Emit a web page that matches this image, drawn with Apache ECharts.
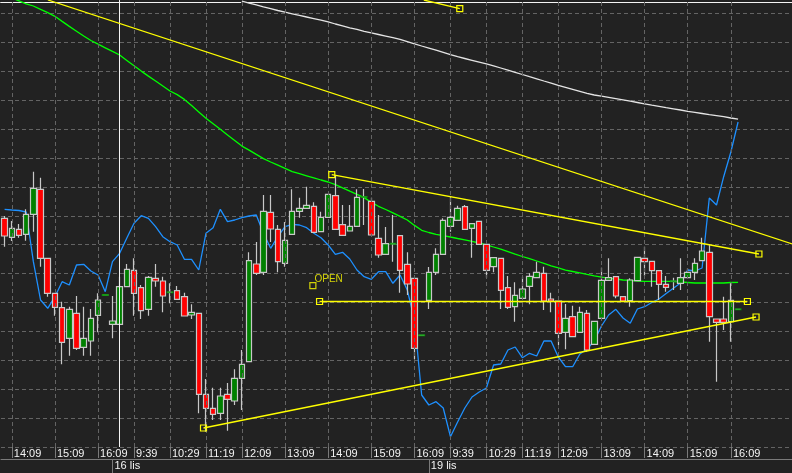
<!DOCTYPE html>
<html><head><meta charset="utf-8">
<script src="https://cdn.jsdelivr.net/npm/echarts@6/dist/echarts.min.js"></script>
<style>html,body{margin:0;padding:0;background:#222222;}#c{width:792px;height:473px;}</style>
</head><body><div id="c"></div>
<script>
// ---- time axis (10-minute bars, three sessions) ----
const sessionStarts = ['13:59', '9:09', '9:09'];
const sessionBars = [15, 44, 51];
const tickIndex = [1, 7, 13, 18, 23, 28, 33, 39, 45, 51, 57, 62, 67, 72, 77, 83, 89, 95, 101];
const timeTicks = ['14:09','15:09','16:09','9:39','10:29','11:19','12:09','13:09','14:09','15:09','16:09','9:39','10:29','11:19','12:09','13:09','14:09','15:09','16:09'];
const dateIndex = [15, 59];
const dateLabels = ['16 lis', '19 lis'];

// ---- candles: [open, close, low, high] ----
const candles = [
[228.7,211,200.3,231],[209.7,218.7,206,226],[217.7,211.7,209.3,223],[212.7,232.7,206.3,237.7],[232.7,258.7,215.3,275.3],
[257.7,188.7,180.3,269.3],[188.7,153.7,150.3,189],[153.7,139.7,131.3,154],[139.3,104.7,82.7,145.3],[108.7,137.7,91.3,140.3],
[133.7,98.7,97,151],[99.7,108.7,91.3,140.3],[106,128.7,91.3,138],[131.7,147,114.7,153.7],[152,152,152,152],
[122.7,126,108.7,151],[122.7,160.3,122.7,170.3],[160.3,177.7,160.3,183],[176.7,153.7,131.3,188.7],[159.3,136.3,128,162],
[137.7,169.7,131.3,171],[168.7,166,160.3,183],[166,151,134.7,170.3],[154.7,154.7,143.7,163.7],[156.3,147.7,147.7,161],
[150.3,131,131,154.3],[132,134.7,128,142.7],[133.7,52.7,33.7,134],[52.7,38.7,15.3,68],[38.7,32.7,27,59.3],
[33.7,51,27,59.3],[52.7,47.7,16.3,64],[46,68.7,42,77.7],[68.7,82.7,37,97],[85.3,186.3,85.3,194.7],
[183,173.7,172,205],[174.7,235.7,172,252],[234.7,218,205,252],[217.7,185.3,174.7,222],[183.7,206.7,180.3,225],
[212.7,235.7,212.7,257.7],[235.7,238.7,229.3,249.3],[238.7,241.7,238.7,260.3],[240.7,214.7,214.7,244.7],[215.3,229.7,215.3,235.3],
[229.7,252.7,229.7,253],[251.3,217.7,217.7,272],[222.3,211.7,211.7,242],[216,220.7,216,242],[220.7,249.7,220.7,257.7],
[250,250,222,258],[245.7,212,211.3,249.3],[208.7,192,189.3,232],[192.7,203.3,192.7,220],[203.3,203.3,185.3,232],
[211.3,176.7,154.3,211.3],[182.7,163,152,194.7],[168.7,98.7,88,168.7],[111.7,111.7,111.7,111.7],[146.7,174.7,138,180],
[174.7,192.7,172,198.7],[192.7,226.7,192.7,228.7],[220.7,229.7,215.3,249.7],[226.7,238.7,226.7,241.3],[240.3,217.7,217.7,242],
[218.7,223.3,189.3,223.3],[225.7,202.7,202.7,225.7],[202.7,176.7,169.3,202.7],[180.3,189.3,174.7,189.3],[188.7,156.7,138,188.7],
[159.3,139.7,138,171],[140.3,151.7,125.3,164.7],[148.7,158,148.7,170.3],[160.7,170.7,142.7,173.7],[169.3,174.7,169.3,185.3],
[173.7,146,137,180.3],[148,146,134.7,154.3],[146,113.7,102,146],[114.7,128.7,97.7,143],[130.3,110.3,110.3,141.3],
[114.7,134.7,114.7,140.3],[133.7,97,95.3,137],[102.7,125.7,102.7,125.7],[128.7,166.7,128.7,179.3],[166.7,169.3,166.7,188.7],
[170.3,151,148.7,170.3],[150.3,146,146,150.3],[146.3,167,140.3,168.7],[166.3,189.7,166.3,189.7],[188.7,185.3,171,200.3],
[185.7,176.3,160.3,185.7],[176.3,162.7,147,176.3],[162.7,159.7,155.3,171],[165.7,165.7,157,169.3],[163.7,169.3,157,188.7],
[169.3,174.7,169.3,178.7],[174.7,183.7,167,188.7],[186.3,196,186.3,209.3],[194.7,130.3,105.3,203],[128,124.7,65.3,128],
[128,124.7,117,150.3],[125.3,146.7,105.3,163.7],[137.7,137.7,137.7,137.7]
];

// ---- indicator lines ----
const blueLine = [
237.7,237,236.5,235,185.3,147,138.7,150.3,165.3,162,
182,182.7,176,172,155.3,185.3,193.7,209,223.7,231.3,
228.7,220.3,210.3,205.3,202,187.7,187.7,177,213.7,219.3,
237.7,225.3,227,229.3,231,232,213.7,198.7,210.3,220.3,
222.7,222,219.3,213.7,209.3,202,192.7,194.7,188,177,
170.3,167.7,175.3,175.3,163.7,172,157,127,52,42,
45.3,39,10.3,25,39,50,55,59,82,83,
97,100,89.3,93.7,91,106,106,90,80.3,80.3,
93,98,106,121,132,137.7,129,123.7,138,140.3,
144.5,148,153.5,158.7,164,177,176,179,249,242,
270.3,295,325];
const greenMA = [
452,449,446.2,443.2,441,437.7,434.4,430.7,425.6,420.6,
415.8,411,406.5,402.8,399.2,395.6,392,386.6,381.2,375.9,
370.9,366,361,356,352.4,347.6,341.4,335.1,328.8,323.3,
317.7,312.1,306.5,300.9,296.9,292.6,288.4,285,281.8,278.6,
275.4,273.3,271.2,269.1,267,265,262.4,259.2,255.9,252.7,
249.4,244.6,240.7,237.5,234.2,230.6,227,221.6,216.7,214.5,
212.6,211.3,210,208.5,207.1,205.7,204,202.2,200,197.9,
195.4,192.8,190.5,188.4,186,183.6,181.2,179.1,176.9,175.5,
174.1,172.6,171.2,169.9,168.9,168,167,166.7,166,165.7,
165.7,165.7,165.7,165.7,165,164.5,164,164,164,164,
164,164.5,164.7];
const whiteMAStart = 33;
const whiteMA = [
445.8,443.9,442.1,440.2,438.4,436.5,434.8,
433.2,431.6,430,428.4,426.8,425.2,423,421.1,419.1,417.7,
415.7,414.1,412.5,410.9,409.3,407.6,405.4,403.2,401,398.9,
396.8,394.6,392.4,390.3,388.5,386.7,384.9,383.1,381.2,379,
376.8,374.6,372.5,370.3,368.2,366,363.9,361.7,359.7,357.7,
355.7,353.7,352,350.8,349.6,348.4,347.1,345.8,344.5,343.2,
341.9,340.7,339.4,338.2,337,335.7,334.6,333.5,332.4,331.4,
330.3,329,327.8];

// ---- drawn objects (bar index, price) ----
const trendA = [[6.02, 447], [109.6, 202.9]];
const trendB = [[58.3, 447], [63.3, 438.3]];
const trendC = [[45.5, 272.3], [104.9, 193]];
const trendD = [[43.8, 145.5], [103.3, 145.5]];
const trendE = [[27.66, 19], [104.5, 130]];
const openMark = [42.87, 161.3];
const topLevel = 444.5;
const topLevelSegments = [[-0.6, 32.9], [33.7, 109.6]];
const cursorIndex = 15.9;

// ---- build ----
const categories = [];
sessionStarts.forEach((s, k) => {
  const [h, m] = s.split(':').map(Number);
  for (let j = 0; j < sessionBars[k]; j++) {
    const t = h * 60 + m + 10 * j;
    categories.push(Math.floor(t / 60) + ':' + String(t % 60).padStart(2, '0'));
  }
});
const tickSet = new Set(tickIndex);
const dateSet = new Set(dateIndex);
const whiteData = categories.slice(0, whiteMAStart).map(() => '-').concat(whiteMA);
const dojiData = [];
candles.forEach((c, i) => { if (c[0] === c[1]) dojiData.push([i, c[0]]); });

const YEL = '#ffff00';
const LW = 1.3;
const sq = { symbol: 'rect', symbolSize: 6 };
function trend(points, squares, z) {
  return {
    type: 'line', xAxisIndex: 1, yAxisIndex: 0, z: z || 6, silent: true,
    data: points.map((p, k) => squares[k] ? Object.assign({ value: p }, sq) : { value: p, symbol: 'none' }),
    showSymbol: true, showAllSymbol: true,
    lineStyle: { color: YEL, width: LW },
    itemStyle: { color: 'rgba(0,0,0,0)', borderColor: YEL, borderWidth: 1.2 },
    emphasis: { disabled: true }
  };
}
const topData = [];
topLevelSegments.forEach((s, k) => {
  if (k > 0) topData.push([(topLevelSegments[k - 1][1] + s[0]) / 2, '-']);
  topData.push([s[0], topLevel], [s[1], topLevel]);
});

const GRIDC = '#646464';
const option = {
  backgroundColor: '#222222',
  animation: false,
  grid: { left: 1, right: -2, top: 0, bottom: 26 },
  xAxis: [
    { type: 'category', data: categories, boundaryGap: true,
      axisLine: { show: false },
      axisTick: { show: true, alignWithLabel: true, length: 11, interval: (i) => tickSet.has(i), lineStyle: { color: '#7a7a7a' } },
      axisLabel: { show: true, interval: (i) => tickSet.has(i), align: 'left', margin: 1, padding: [0, 0, 0, 2],
        formatter: (v, i) => timeTicks[tickIndex.indexOf(i)] || '', color: '#f4f4f4', fontFamily: 'Liberation Sans', fontSize: 11 },
      splitLine: { show: false } },
    { type: 'value', min: -0.5, max: 109.5, show: false },
    { type: 'category', data: categories, boundaryGap: true, position: 'bottom', offset: 12,
      axisLine: { show: true, lineStyle: { color: '#7a7a7a' } },
      axisTick: { show: true, alignWithLabel: true, length: 14, interval: (i) => dateSet.has(i), lineStyle: { color: '#7a7a7a' } },
      axisLabel: { show: true, interval: (i) => dateSet.has(i), align: 'left', margin: 1, padding: [0, 0, 0, 2],
        formatter: (v, i) => dateLabels[dateIndex.indexOf(i)] || '', color: '#f4f4f4', fontFamily: 'Liberation Sans', fontSize: 11 },
      splitLine: { show: false } }
  ],
  yAxis: { type: 'value', min: 0, max: 447, interval: 28.9,
    axisLine: { show: false }, axisTick: { show: false }, axisLabel: { show: false },
    splitLine: { show: true, showMaxLine: false, lineStyle: { color: GRIDC, type: [4, 3], width: 1 } } },
  series: [
    { type: 'line', xAxisIndex: 1, data: [], z: 1, silent: true,
      markLine: { silent: true, symbol: ['none', 'none'], label: { show: false }, animation: false,
        lineStyle: { color: GRIDC, type: [4, 3], width: 1 },
        data: tickIndex.map(i => ({ xAxis: i })) } },
    { type: 'line', xAxisIndex: 1, data: topData, z: 2, silent: true, showSymbol: false, connectNulls: false,
      lineStyle: { color: '#f4f4f4', width: 1 } },
    { type: 'line', xAxisIndex: 0, data: whiteData, z: 2, silent: true, showSymbol: false,
      lineStyle: { color: '#e4e4e4', width: LW } },
    { type: 'line', xAxisIndex: 0, data: greenMA, z: 2, silent: true, showSymbol: false,
      lineStyle: { color: '#00ff00', width: LW } },
    { type: 'line', xAxisIndex: 0, data: blueLine, z: 2, silent: true, showSymbol: false,
      lineStyle: { color: '#1e90ff', width: LW } },
    { type: 'candlestick', xAxisIndex: 0, data: candles, barWidth: 6, z: 3, silent: true,
      itemStyle: { color: '#008000', color0: '#ff0000', borderColor: '#c8c8c8', borderColor0: '#c8c8c8', borderColorDoji: '#c8c8c8', borderWidth: 1.2 } },
    { type: 'scatter', xAxisIndex: 0, data: dojiData, z: 4, silent: true, symbol: 'rect', symbolSize: [7, 2],
      itemStyle: { color: '#00a000' } },
    trend(trendA, [false, false]),
    trend(trendB, [false, true]),
    trend(trendC, [true, true]),
    trend(trendD, [true, true]),
    trend(trendE, [true, true]),
    { type: 'scatter', xAxisIndex: 1, data: [openMark], z: 6, silent: true, symbol: 'rect', symbolSize: 6,
      itemStyle: { color: 'rgba(0,0,0,0)', borderColor: YEL, borderWidth: 1.2 },
      label: { show: true, formatter: 'OPEN', position: 'right', distance: -2, offset: [0, -6], color: YEL, fontFamily: 'Liberation Sans', fontSize: 10 } },
    { type: 'line', xAxisIndex: 1, data: [], z: 7, silent: true,
      markLine: { silent: true, symbol: ['none', 'none'], label: { show: false }, animation: false,
        lineStyle: { color: '#f4f4f4', type: 'solid', width: 1 },
        data: [{ xAxis: cursorIndex }] } }
  ]
};
const chart = echarts.init(document.getElementById('c'));
chart.setOption(option);
</script>
</body></html>
